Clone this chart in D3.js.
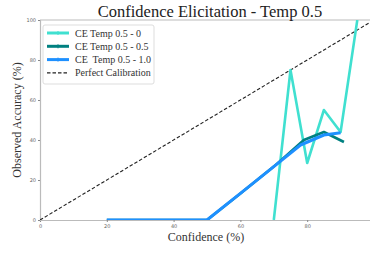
<!DOCTYPE html>
<html>
<head>
<meta charset="utf-8">
<script src="https://cdn.jsdelivr.net/npm/d3@7"></script>
<style>
  body { margin: 0; background: #fff; }
  svg { display: block; }
  .serif { font-family: "Liberation Serif", "DejaVu Serif", serif; }
</style>
</head>
<body>
<div id="chart"></div>
<script>
(function(){
  // series (confidence %, observed accuracy %)
  const temp0Conf = [70, 75, 80, 85, 90, 95];
  const temp0Acc  = [0, 75, 28.5, 55, 44, 100];
  const temp05Conf = [20, 50, 60, 70, 79, 85, 91];
  const temp05Acc  = [0, 0, 13.3, 26.7, 40, 44, 39];
  const temp10Conf = [20, 50, 60, 70, 78, 85, 90];
  const temp10Acc  = [0, 0, 13.3, 26.7, 37.5, 42.5, 43.6];
  const seriesNames = ["CE Temp 0.5 - 0", "CE Temp 0.5 - 0.5", "CE  Temp 0.5 - 1.0", "Perfect Calibration"];
  const xTicks = [0, 20, 40, 60, 80];
  const yTicks = [0, 20, 40, 60, 80, 100];

  const width = 370, height = 253;
  const margin = { top: 20, right: -4, bottom: 33, left: 40 };

  const x = d3.scaleLinear().domain([0, 100]).range([margin.left, width - margin.right]);
  const y = d3.scaleLinear().domain([0, 100]).range([height - margin.bottom, margin.top]);

  const svg = d3.select("#chart").append("svg")
    .attr("width", width)
    .attr("height", height);

  svg.append("defs").append("clipPath").attr("id", "plot")
    .append("rect")
    .attr("x", margin.left).attr("y", margin.top)
    .attr("width", width - margin.left).attr("height", y(0) - margin.top);

  // axes
  const xAxis = svg.append("g")
    .attr("transform", `translate(0,${y(0)})`)
    .call(d3.axisBottom(x).tickValues(xTicks).tickSize(2).tickPadding(2));
  const yAxis = svg.append("g")
    .attr("transform", `translate(${margin.left},0)`)
    .call(d3.axisLeft(y).tickValues(yTicks).tickSize(2).tickPadding(2));
  [xAxis, yAxis].forEach(g => {
    g.select(".domain").attr("stroke", "#bbb").attr("stroke-width", 1.2);
    g.selectAll(".tick line").attr("stroke", "#888");
    g.selectAll(".tick text").attr("fill", "#666").style("font-size", "5px").style("font-family", "DejaVu Sans, sans-serif");
  });
  // top spine
  svg.append("line")
    .attr("x1", margin.left).attr("x2", width)
    .attr("y1", y(100)).attr("y2", y(100))
    .attr("stroke", "#bbb").attr("stroke-width", 1.2);

  const plot = svg.append("g").attr("clip-path", "url(#plot)");

  const line = d3.line().x(d => x(d[0])).y(d => y(d[1]));

  // perfect calibration
  plot.append("path")
    .datum([[0, 0], [100, 100]])
    .attr("d", line)
    .attr("fill", "none")
    .attr("stroke", "#222")
    .attr("stroke-width", 1.1)
    .attr("stroke-dasharray", "3.5,2");

  const series = [
    { conf: temp0Conf, acc: temp0Acc, color: "#40e0d0", w: 2.6 },
    { conf: temp05Conf, acc: temp05Acc, color: "#008080", w: 2.6 },
    { conf: temp10Conf, acc: temp10Acc, color: "#1e90ff", w: 3 }
  ];
  series.forEach(s => {
    plot.append("path")
      .datum(s.conf.map((c, i) => [c, s.acc[i]]))
      .attr("d", line)
      .attr("fill", "none")
      .attr("stroke", s.color)
      .attr("stroke-width", s.w)
      .attr("stroke-linejoin", "round");
  });

  // legend
  const legend = svg.append("g").attr("transform", "translate(43,25)");
  legend.append("rect")
    .attr("width", 111).attr("height", 59).attr("rx", 2)
    .attr("fill", "#fff").attr("fill-opacity", 0.85)
    .attr("stroke", "#ddd");
  const legendColors = ["#40e0d0", "#008080", "#1e90ff", "#222"];
  seriesNames.forEach((name, i) => {
    const ly = 8 + i * 13.3;
    const row = legend.append("g").attr("transform", `translate(0,${ly})`);
    if (i < 3) {
      row.append("line").attr("x1", 4).attr("x2", 26).attr("y1", 0).attr("y2", 0)
        .attr("stroke", legendColors[i]).attr("stroke-width", 3);
      row.append("line").attr("x1", 15).attr("x2", 15).attr("y1", -2).attr("y2", 2)
        .attr("stroke", legendColors[i]).attr("stroke-width", 1);
    } else {
      row.append("line").attr("x1", 4).attr("x2", 26).attr("y1", 0).attr("y2", 0)
        .attr("stroke", legendColors[i]).attr("stroke-width", 1.1)
        .attr("stroke-dasharray", "3.5,2");
    }
    row.append("text")
      .attr("class", "serif")
      .attr("x", 32).attr("y", 0).attr("dy", "0.35em")
      .attr("fill", "#333")
      .style("font-size", "10px")
      .style("white-space", "pre")
      .text(name);
  });

  // title and axis labels
  svg.append("text")
    .attr("class", "serif")
    .attr("x", 210).attr("y", 17)
    .attr("text-anchor", "middle")
    .attr("fill", "#222")
    .style("font-size", "16.5px")
    .text("Confidence Elicitation - Temp 0.5");
  svg.append("text")
    .attr("class", "serif")
    .attr("x", 206).attr("y", 241)
    .attr("text-anchor", "middle")
    .attr("fill", "#333")
    .style("font-size", "12px")
    .text("Confidence (%)");
  svg.append("text")
    .attr("class", "serif")
    .attr("transform", `translate(21,${y(50)}) rotate(-90)`)
    .attr("text-anchor", "middle")
    .attr("fill", "#333")
    .style("font-size", "12px")
    .text("Observed Accuracy (%)");
})();
</script>
</body>
</html>
